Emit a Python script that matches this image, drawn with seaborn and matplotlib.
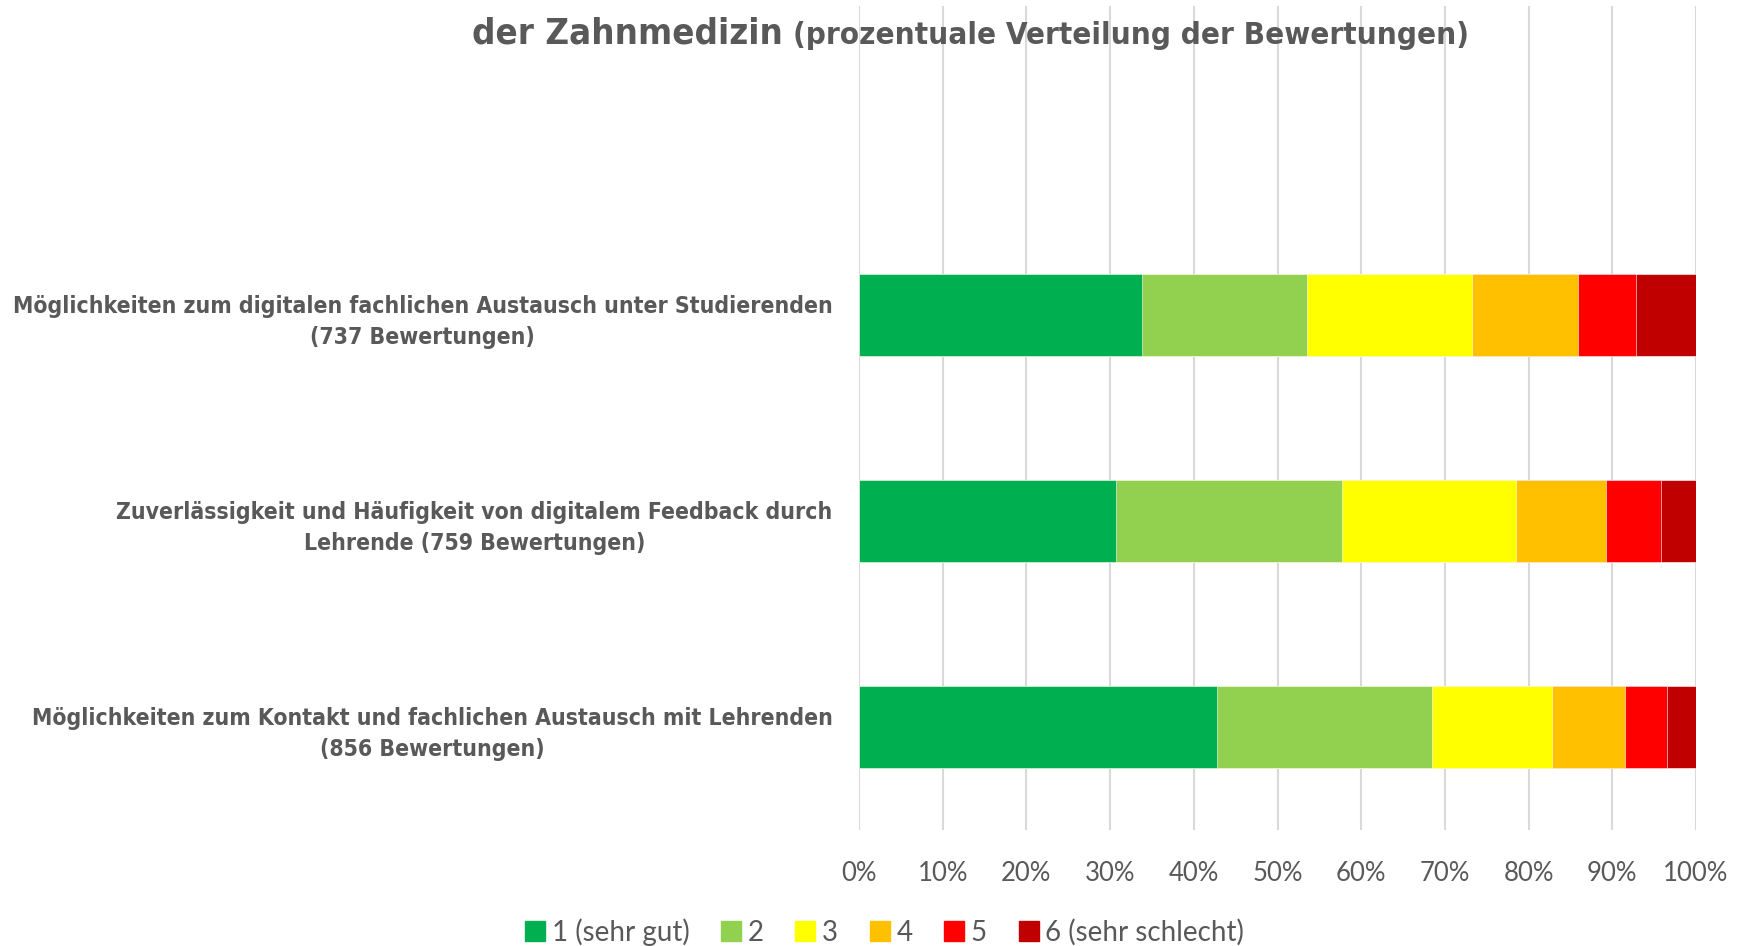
import matplotlib
matplotlib.use("Agg")
import matplotlib.pyplot as plt
from matplotlib.lines import Line2D
import seaborn as sns
import numpy as np
import pandas as pd

categories = [
    "Möglichkeiten zum digitalen fachlichen Austausch unter Studierenden\n(737 Bewertungen)",
    "Zuverlässigkeit und Häufigkeit von digitalem Feedback durch\nLehrende (759 Bewertungen)",
    "Möglichkeiten zum Kontakt und fachlichen Austausch mit Lehrenden\n(856 Bewertungen)",
]
series_names = ["1 (sehr gut)", "2", "3", "4", "5", "6 (sehr schlecht)"]
s1 = [33.8, 30.7, 42.8]
s2 = [19.7, 27.0, 25.7]
s3 = [19.7, 20.8, 14.3]
s4 = [12.7, 10.7, 8.7]
s5 = [6.9, 6.6, 5.0]
s6 = [7.2, 4.2, 3.5]
colors = ["#00B050", "#92D050", "#FFFF00", "#FFC000", "#FF0000", "#C00000"]
xticks = [0, 10, 20, 30, 40, 50, 60, 70, 80, 90, 100]
xticklabels = [f"{t}%" for t in xticks]
title_main = "der Zahnmedizin"
title_sub = "(prozentuale Verteilung der Bewertungen)"

sns.set_theme(style="white")
plt.rcParams['font.family'] = ['DejaVu Sans']
TXT = "#595959"

W, H = 1746, 946
fig = plt.figure(figsize=(W / 100, H / 100), dpi=100)
ax = fig.add_axes([859 / W, 1 - 830 / H, 837 / W, 824 / H])

series = [s1, s2, s3, s4, s5, s6]
cum = np.cumsum(np.array(series), axis=0)
cum = cum / cum[-1] * 100
for i in range(len(series) - 1, -1, -1):
    df = pd.DataFrame({"cat": categories, "val": cum[i]})
    sns.barplot(data=df, y="cat", x="val", order=categories, orient="h",
                color=colors[i], saturation=1, width=0.4, ax=ax,
                edgecolor="white", linewidth=0.4)

ax.set_xlim(0, 100)
ax.set_ylim(2.5, -1.5)
ax.set_xticks(xticks)
ax.set_xticklabels(xticklabels, fontsize=18.5, color=TXT, family="Lato")
ax.tick_params(axis="x", length=0, pad=22)
ax.tick_params(axis="y", length=0, pad=19)
ax.set_yticks(range(len(categories)))
ax.set_yticklabels(categories, fontsize=16.5, color=TXT, fontweight="bold",
                   fontstretch="condensed", multialignment="center",
                   linespacing=1.45)
ax.set_xlabel("")
ax.set_ylabel("")
for s in ax.spines.values():
    s.set_visible(False)
ax.grid(axis="x", color="#D9D9D9", linewidth=1.5)
ax.grid(axis="y", visible=False)
ax.set_axisbelow(True)

# Title (partly visible line)
fig.canvas.draw()
r = fig.canvas.get_renderer()
t1 = fig.text(472 / W, 1 - 33 / H, title_main, fontsize=34, fontweight="bold",
              fontstretch="condensed", color=TXT, ha="left", va="center")
bb = t1.get_window_extent(r)
t1.set_fontsize(34 * 311 / bb.width)
t2 = fig.text(793 / W, 1 - 35 / H, title_sub, fontsize=24, fontweight="bold",
              fontstretch="condensed", color=TXT, ha="left", va="center")
bb2 = t2.get_window_extent(r)
t2.set_fontsize(24 * 675 / bb2.width)

handles = [Line2D([0], [0], marker="s", linestyle="", markersize=14,
                  markerfacecolor=c, markeredgecolor=c) for c in colors]
fig.legend(handles, series_names, loc="center", bbox_to_anchor=(884 / W, 1 - 932 / H),
           ncol=6, frameon=False, prop={"family": "Lato", "size": 20},
           labelcolor=TXT, handletextpad=0.2, columnspacing=1.1, handlelength=0.8)

fig.savefig("out.png", dpi=100)
